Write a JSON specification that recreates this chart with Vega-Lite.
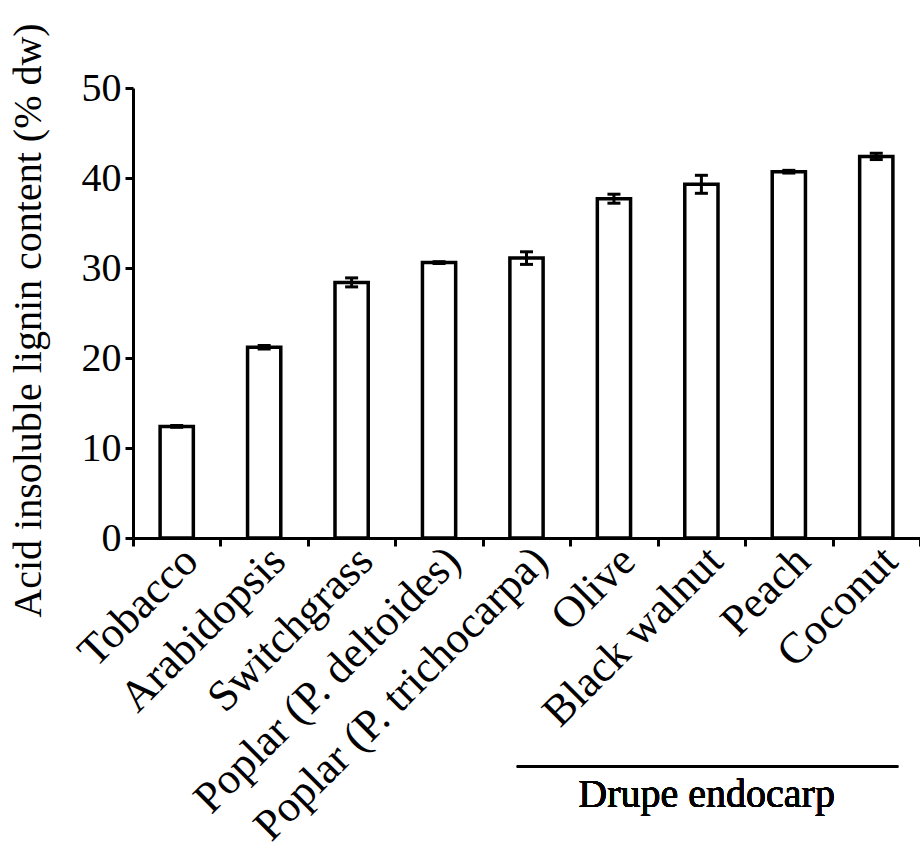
{
  "$schema": "https://vega.github.io/schema/vega-lite/v6.json",
  "autosize": {"type": "none"},
  "padding": {"left": 133, "top": 88, "right": 0, "bottom": 321},
  "width": 787,
  "height": 450,
  "background": "white",
  "config": {
    "view": {"stroke": null},
    "font": "Liberation Serif"
  },
  "data": {
    "values": [
      {"sample": "Tobacco", "lignin": 12.4, "low": 12.3, "high": 12.5},
      {"sample": "Arabidopsis", "lignin": 21.2, "low": 21.0, "high": 21.4},
      {"sample": "Switchgrass", "lignin": 28.4, "low": 27.9, "high": 28.9},
      {"sample": "Poplar (P. deltoides)", "lignin": 30.6, "low": 30.5, "high": 30.7},
      {"sample": "Poplar (P. trichocarpa)", "lignin": 31.1, "low": 30.4, "high": 31.8},
      {"sample": "Olive", "lignin": 37.7, "low": 37.2, "high": 38.2},
      {"sample": "Black walnut", "lignin": 39.3, "low": 38.3, "high": 40.3},
      {"sample": "Peach", "lignin": 40.7, "low": 40.55, "high": 40.85},
      {"sample": "Coconut", "lignin": 42.4, "low": 42.05, "high": 42.75}
    ]
  },
  "layer": [
    {
      "mark": {"type": "bar", "width": {"band": 0.38}, "fill": "white", "stroke": "black", "strokeWidth": 3.5},
      "encoding": {
        "x": {
          "field": "sample", "type": "nominal", "sort": null,
          "scale": {"paddingInner": 0, "paddingOuter": 0},
          "axis": {
            "title": null, "orient": "bottom",
            "labelAngle": -45, "labelAlign": "right", "labelBaseline": "middle",
            "labelFont": "Liberation Serif", "labelFontSize": 44, "labelColor": "black",
            "labelPadding": 8, "labelOffset": 14, "labelLimit": 0,
            "tickBand": "extent", "tickSize": 8, "tickWidth": 3, "tickColor": "black",
            "domainColor": "black", "domainWidth": 3, "grid": false
          }
        },
        "y": {
          "field": "lignin", "type": "quantitative",
          "scale": {"domain": [0, 50], "nice": false, "zero": true},
          "axis": {
            "title": "Acid insoluble lignin content (% dw)",
            "titleFont": "Liberation Serif", "titleFontSize": 40, "titleFontWeight": "normal", "titleColor": "black",
            "titlePadding": 33, "titleY": 232,
            "values": [0, 10, 20, 30, 40, 50],
            "labelFont": "Liberation Serif", "labelFontSize": 40, "labelColor": "black", "labelPadding": 4,
            "tickSize": 8, "tickWidth": 3, "tickColor": "black",
            "domainColor": "black", "domainWidth": 3, "grid": false
          }
        }
      }
    },
    {
      "mark": {"type": "rule", "stroke": "black", "strokeWidth": 3},
      "encoding": {
        "x": {"field": "sample", "type": "nominal", "sort": null},
        "y": {"field": "low", "type": "quantitative"},
        "y2": {"field": "high"}
      }
    },
    {
      "mark": {"type": "tick", "orient": "horizontal", "size": 13, "thickness": 3, "color": "black", "opacity": 1},
      "encoding": {
        "x": {"field": "sample", "type": "nominal", "sort": null},
        "y": {"field": "high", "type": "quantitative"}
      }
    },
    {
      "mark": {"type": "tick", "orient": "horizontal", "size": 13, "thickness": 3, "color": "black", "opacity": 1},
      "encoding": {
        "x": {"field": "sample", "type": "nominal", "sort": null},
        "y": {"field": "low", "type": "quantitative"}
      }
    },
    {
      "mark": {"type": "rule", "stroke": "black", "strokeWidth": 2},
      "encoding": {
        "x": {"datum": "Poplar (P. trichocarpa)", "type": "nominal", "bandPosition": 0.39},
        "x2": {"datum": "Coconut", "bandPosition": 0.75},
        "y": {"datum": -25.4, "type": "quantitative"}
      }
    },
    {
      "mark": {"type": "text", "font": "Liberation Serif", "fontSize": 40, "color": "black", "align": "center", "baseline": "middle"},
      "encoding": {
        "x": {"datum": "Black walnut", "type": "nominal", "bandPosition": 0.56},
        "y": {"datum": -28.5, "type": "quantitative"},
        "text": {"value": "Drupe endocarp"}
      }
    }
  ]
}
